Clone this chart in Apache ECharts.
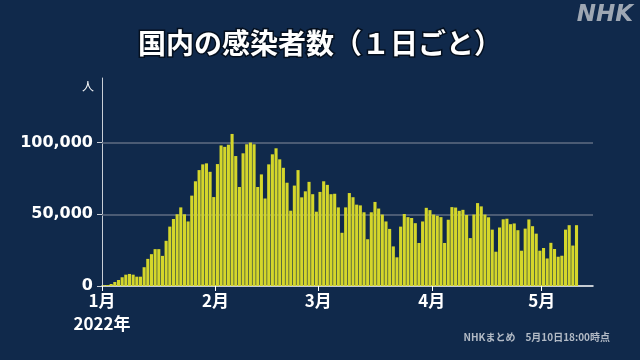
<!DOCTYPE html>
<html>
<head>
<meta charset="utf-8">
<script src="https://cdn.jsdelivr.net/npm/echarts@6/dist/echarts.min.js"></script>
<style>
html,body{margin:0;padding:0;background:#10294b;}
#chart{width:640px;height:360px;}
</style>
</head>
<body>
<div id="chart"></div>
<script>
// Daily new cases in Japan, 2022-01-01 .. 2022-05-10 (one value per day)
const startDate = '2022-01-01';
const dailyCases = [
  500, 700, 1400, 2800, 4200, 6100, 7900, 8400, 7900, 6500, 6500, 13100, 18900, 22200, 25700, 25700, 21000, 31500, 41400, 46700, 50000,
  54800, 50000, 45000, 63000, 73000, 80800, 84800, 85500, 79600, 62000,
  85000, 98000, 97000, 98500, 106000, 90600, 69000, 92500, 98800, 100000, 98800, 69000, 77800, 61000, 84800, 91800, 96000, 88300, 82400, 72000, 52500, 70000, 80800, 61800, 66000, 72600, 64000, 51800,
  65600, 73000, 70500, 64000, 64300, 54800, 37100, 54800, 64800, 61900, 56700, 56200, 51400, 32600, 51400, 58600, 54000, 49800, 45000, 39800, 27600, 20000, 41400, 50200, 48000, 47400, 43800, 30000, 45000, 54500, 52900,
  49800, 49000, 48000, 30000, 46200, 55000, 54700, 52400, 53100, 49500, 33400, 49800, 57800, 55500, 49800, 47900, 39300, 23900, 40800, 46500, 46900, 43100, 43600, 38900, 24600, 40000, 46400, 41700, 36500, 24600,
  26500, 19200, 30100, 25800, 20400, 21100, 39300, 42400, 28200, 42400
];
const monthLabels = ['1月', '2月', '3月', '4月', '5月'];
const monthStartDays = [0, 31, 59, 90, 120];
const yTickValues = [0, 50000, 100000];
const gridValues = [50000, 100000];
const titleText = '国内の感染者数（１日ごと）';
const unitText = '人';
const yearText = '2022年';
const sourceText = 'NHKまとめ　5月10日18:00時点';

const chart = echarts.init(document.getElementById('chart'), null, {renderer: 'canvas'});
const barData = dailyCases.map((v, i) => [i + 0.5, v]);
const fmt = v => String(v).replace(/\B(?=(\d{3})+(?!\d))/g, ',');
const JP = "'Noto Sans CJK JP', 'Noto Sans', sans-serif";

chart.setOption({
  backgroundColor: '#10294b',
  animation: false,
  textStyle: {fontFamily: JP},
  title: {
    text: titleText,
    left: 'center',
    top: 24,
    textStyle: {
      color: '#ffffff', fontSize: 28, fontWeight: 'bold', fontFamily: JP,
      textBorderColor: '#05101f', textBorderWidth: 3
    }
  },
  graphic: [
    {type: 'text', right: 7, top: 4, style: {text: 'NHK', fill: '#9ea7b3', font: "italic bold 23px 'DejaVu Sans', sans-serif"}},
    {type: 'text', right: 30, top: 332, style: {text: sourceText, fill: '#b3bbc6', font: "bold 10px " + JP}}
  ],
  grid: {left: 102, right: 47, top: 78, bottom: 74},
  xAxis: {
    type: 'value', min: 0, max: 134,
    splitLine: {show: false},
    axisLine: {show: true, onZero: false, lineStyle: {color: '#ffffff', width: 1.5}},
    axisTick: {show: true, customValues: monthStartDays, length: 5, lineStyle: {color: '#ffffff', width: 1}},
    axisLabel: {
      customValues: monthStartDays,
      color: '#ffffff', fontSize: 17, fontWeight: 'bold', fontFamily: JP, margin: 3, lineHeight: 23,
      formatter: v => {
        const k = monthStartDays.indexOf(Math.round(v));
        const m = k >= 0 ? monthLabels[k] : '';
        return k === 0 ? m + '\n' + yearText : m;
      }
    }
  },
  yAxis: {
    type: 'value', min: 0, max: 145000,
    name: unitText, nameLocation: 'end', nameGap: -14,
    nameTextStyle: {color: '#ffffff', fontSize: 12, align: 'right', padding: [0, 8, 0, 0], fontFamily: JP},
    splitLine: {show: false},
    axisLine: {show: true, lineStyle: {color: '#c9ced6', width: 1}},
    axisTick: {show: true, customValues: yTickValues, length: 5, lineStyle: {color: '#c9ced6'}},
    axisLabel: {customValues: yTickValues, color: '#ffffff', fontSize: 16, fontWeight: 'bold', fontFamily: "'DejaVu Sans', sans-serif", margin: 9, formatter: v => fmt(v)}
  },
  series: [{
    type: 'bar',
    data: barData,
    barWidth: 3.1,
    itemStyle: {color: '#d4d62b'},
    markLine: {
      silent: true, symbol: 'none', z: 1,
      label: {show: false},
      lineStyle: {color: '#5f6d82', width: 1.5, type: 'solid'},
      data: gridValues.map(v => ({yAxis: v}))
    }
  }]
});
</script>
</body>
</html>
